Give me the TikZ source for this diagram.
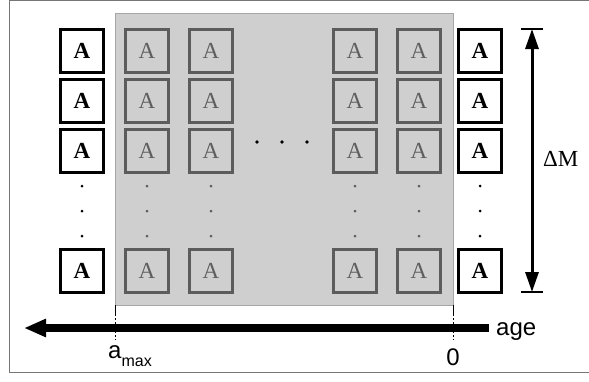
\documentclass[tikz,border=0pt]{standalone}
\usepackage{fontspec}
\setmainfont{Liberation Serif}
\newfontfamily\axisfont{Liberation Sans}
\usetikzlibrary{arrows.meta,positioning}
\definecolor{FieldGray}{HTML}{CFCFCF}
\definecolor{FieldEdge}{HTML}{A6A6A6}
\definecolor{CellEdge}{HTML}{5C5C5C}
\definecolor{CellText}{HTML}{5E5E5E}
\definecolor{FrameGray}{HTML}{767676}
\tikzset{
  framerule/.style={draw=FrameGray,line width=1.4pt},
  field/.style={draw=FieldEdge,fill=FieldGray,line width=1pt,minimum width=338pt,minimum height=292pt,inner sep=0pt,outer sep=0pt},
  agebox/.style={draw=black,line width=2.2pt,fill=white,minimum size=43pt,inner sep=0pt,font=\fontsize{23}{23}\selectfont\bfseries},
  cellbox/.style={draw=CellEdge,line width=2.4pt,fill=FieldGray,text=CellText,minimum size=43pt,inner sep=0pt,font=\fontsize{23}{23}\selectfont},
  dimarrow/.style={{Triangle[length=20pt,width=13pt]}-{Triangle[length=20pt,width=13pt]},line width=3pt},
  dimbar/.style={line width=1.3pt},
  agearrow/.style={-{Triangle[length=22pt,width=17pt]},line width=7.5pt},
  tickline/.style={line width=0.9pt,dash pattern=on 11pt off 2pt on 2pt off 2pt},
  axislabel/.style={inner sep=0pt,font=\axisfont\fontsize{24}{24}\selectfont},
  dimlabel/.style={inner sep=0pt,font=\fontsize{23}{23}\selectfont}
}

\begin{document}
\begin{tikzpicture}[x=1pt,y=-1pt]
\useasboundingbox (0,0) rectangle (589,381);
% frame, open on the right
\draw[framerule] (589,0.7) -- (9.7,0.7) -- (9.7,372.4) -- (589,372.4);
% shaded block of inner columns
\node[field] (field) at (284,159) {};
\foreach \col/\x in {g1/147,g2/211,g3/355,g4/419}{
  \foreach \row/\y in {1/51,2/101,3/151,4/271}
    \node[cellbox] (\col-\row) at (\x,\y) {A};
  \foreach \y in {186,211,236}
    \fill[CellEdge] (\x,\y) circle (1.5pt);
}
% outer columns
\foreach \col/\x in {w0/82,w5/480}{
  \foreach \row/\y in {1/51,2/101,3/151,4/271}
    \node[agebox] (\col-\row) at (\x,\y) {A};
  \foreach \y in {186,211,236}
    \fill (\x,\y) circle (1.5pt);
}
\foreach \x in {257,282,307}
  \fill (\x,142) circle (1.9pt);

% mass range
\coordinate (dmtop) at (532,29);
\coordinate (dmbot) at (532,292);
\draw[dimarrow] (dmtop) -- (dmbot);
\draw[dimbar] ([xshift=-11pt]dmtop) -- ([xshift=11pt]dmtop);
\draw[dimbar] ([xshift=-11pt]dmbot) -- ([xshift=11pt]dmbot);
\node[dimlabel,anchor=base west] (dm) at (543,166) {ΔM};

% age axis
\coordinate (amaxtick) at (115,340);
\coordinate (zerotick) at (453,340);
\draw[tickline] (field.south west) -- (amaxtick);
\draw[tickline] (field.south east) -- (zerotick);
\coordinate (agestart) at (489,328);
\coordinate (ageend) at (24,328);
\draw[agearrow] (agestart) -- (ageend);
\node[axislabel,anchor=base west] (age) at (496,335) {age};
\node[axislabel,anchor=base west] (amax) at (108,358) {a\raisebox{-8pt}{\fontsize{16}{16}\selectfont max}};
\node[axislabel,anchor=base] (zero) at (453,365) {0};
\end{tikzpicture}
\end{document}
